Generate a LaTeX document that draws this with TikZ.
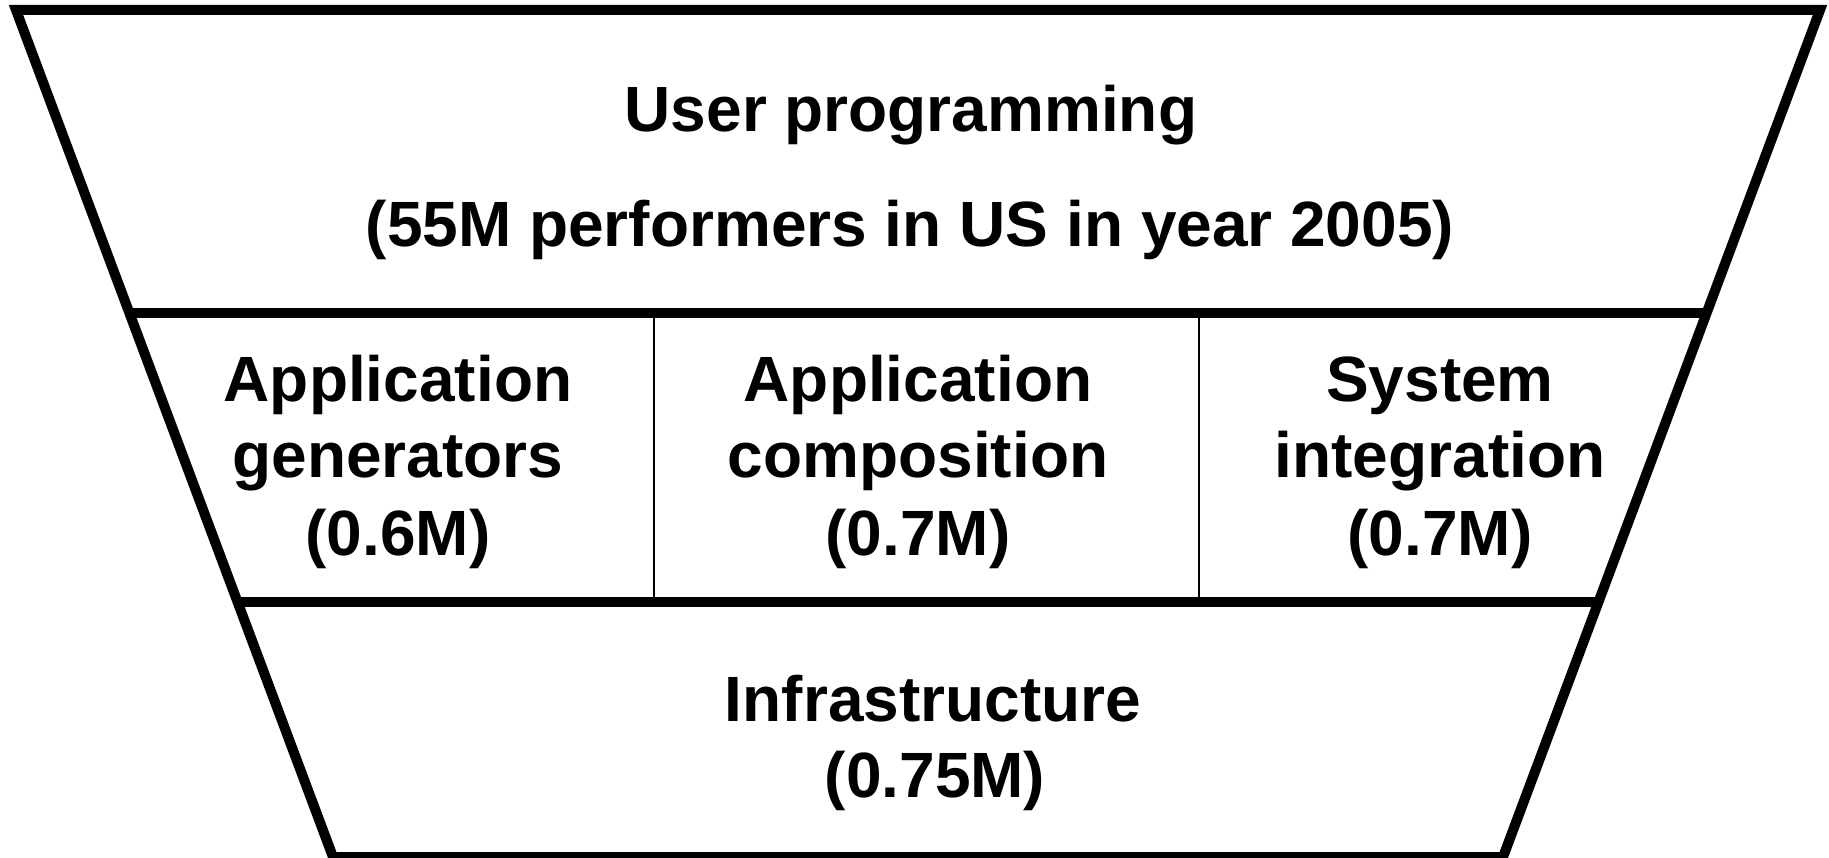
\documentclass[tikz,border=0pt]{standalone}
\usepackage{fontspec}
\setmainfont{Liberation Sans}
\usetikzlibrary{calc}
\tikzset{
  frame/.style={line width=10pt, line join=miter},
  divider/.style={line width=2pt},
  label/.style={anchor=base, inner sep=0pt, font=\fontsize{64}{76}\selectfont\bfseries}
}
\begin{document}
\begin{tikzpicture}[x=1pt, y=-1pt]
  \useasboundingbox (0,0) rectangle (1829,858);
  % funnel outline
  \coordinate (TL) at (16,10);
  \coordinate (TR) at (1820,10);
  \coordinate (BL) at (333,857);
  \coordinate (BR) at (1503,857);
  \draw[frame] (TL) -- (TR) -- (BR) -- (BL) -- cycle;
  % band boundaries on the slanted sides
  \coordinate (L1) at ($(TL)!0.3577!(BL)$);
  \coordinate (R1) at ($(TR)!0.3577!(BR)$);
  \coordinate (L2) at ($(TL)!0.6989!(BL)$);
  \coordinate (R2) at ($(TR)!0.6989!(BR)$);
  \draw[frame] (L1) -- (R1);
  \draw[frame] (L2) -- (R2);
  % column separators of the middle band
  \coordinate (c1t) at (654,313);
  \coordinate (c1b) at (654,602);
  \coordinate (c2t) at (1199,313);
  \coordinate (c2b) at (1199,602);
  \draw[divider] (c1t) -- (c1b);
  \draw[divider] (c2t) -- (c2b);
  % top band
  \node[label] (up1) at (911,132) {User programming};
  \node[label] (up2) at (910,247) {(55M performers in US in year 2005)};
  % middle band
  \node[label] (ag1) at (398,402) {Application};
  \node[label] (ag2) at (398,478) {generators};
  \node[label] (ag3) at (398,555) {(0.6M)};
  \node[label] (ac1) at (918,402) {Application};
  \node[label] (ac2) at (918,478) {composition};
  \node[label] (ac3) at (918,555) {(0.7M)};
  \node[label] (si1) at (1440,402) {System};
  \node[label] (si2) at (1440,478) {integration};
  \node[label] (si3) at (1440,555) {(0.7M)};
  % bottom band
  \node[label] (in1) at (933,721) {Infrastructure};
  \node[label] (in2) at (935,797) {(0.75M)};
\end{tikzpicture}
\end{document}
